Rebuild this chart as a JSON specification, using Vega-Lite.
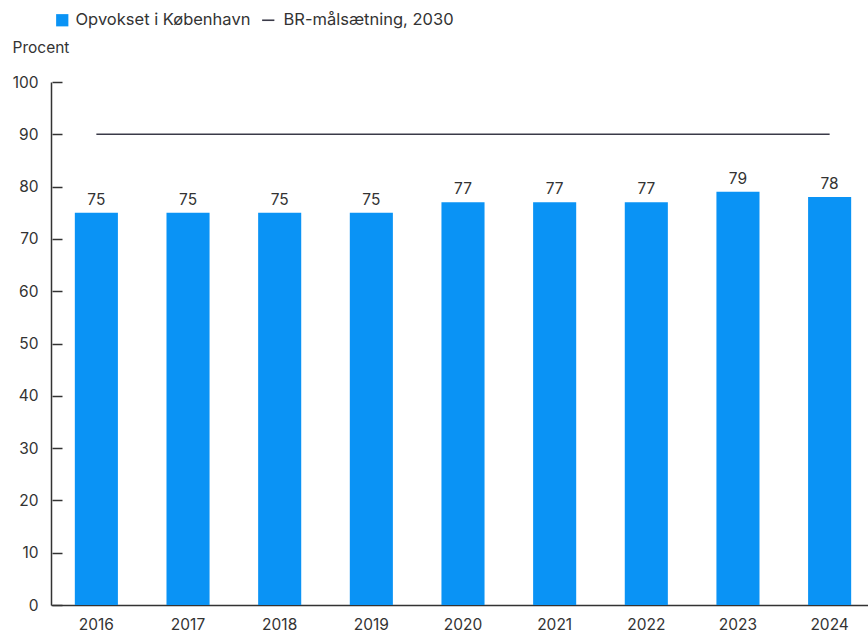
{
  "$schema": "https://vega.github.io/schema/vega-lite/v6.json",
  "autosize": "none",
  "width": 824,
  "height": 523,
  "padding": {"left": 51, "top": 82, "right": 0, "bottom": 29},
  "background": "white",
  "config": {
    "font": "Inter",
    "view": {"stroke": null},
    "axis": {"labelFont": "Inter", "titleFont": "Inter", "labelColor": "#333333", "titleColor": "#333333"}
  },
  "resolve": {"axis": {"y": "independent"}},
  "data": {
    "values": [
      {"year": "2016", "value": 75, "target": 90},
      {"year": "2017", "value": 75, "target": 90},
      {"year": "2018", "value": 75, "target": 90},
      {"year": "2019", "value": 75, "target": 90},
      {"year": "2020", "value": 77, "target": 90},
      {"year": "2021", "value": 77, "target": 90},
      {"year": "2022", "value": 77, "target": 90},
      {"year": "2023", "value": 79, "target": 90},
      {"year": "2024", "value": 78, "target": 90}
    ]
  },
  "encoding": {
    "x": {
      "field": "year",
      "type": "ordinal",
      "scale": {"paddingInner": 0.53, "paddingOuter": 0.26},
      "axis": {
        "title": null,
        "labelAngle": 0,
        "labelFontSize": 15.5,
        "labelPadding": 12,
        "ticks": false,
        "domainColor": "#333333",
        "domainWidth": 1.5
      }
    }
  },
  "layer": [
    {
      "mark": {"type": "bar", "color": "#0A93F5"},
      "encoding": {
        "y": {
          "field": "value",
          "type": "quantitative",
          "scale": {"domain": [0, 100], "nice": false},
          "axis": {
            "orient": "left",
            "title": "Procent",
            "titleAngle": 0,
            "titleAlign": "left",
            "titleBaseline": "middle",
            "titleX": -39,
            "titleY": -35,
            "titleFontSize": 15.5,
            "titleFontWeight": "normal",
            "values": [0, 10, 20, 30, 40, 50, 60, 70, 80, 90, 100],
            "labelFontSize": 15.5,
            "labelPadding": 13,
            "ticks": false,
            "domainColor": "#333333",
            "domainWidth": 1.5,
            "grid": false
          }
        },
        "fill": {
          "datum": "Opvokset i København",
          "scale": {"range": ["#0A93F5"]},
          "legend": {
            "title": null,
            "orient": "none",
            "legendX": 3,
            "legendY": -70,
            "symbolType": "square",
            "symbolSize": 150,
            "symbolStrokeWidth": 0,
            "labelFontSize": 16.5,
            "labelColor": "#333333",
            "labelOffset": 5,
            "labelLimit": 400
          }
        }
      }
    },
    {
      "mark": {"type": "line", "color": "#3a3a48", "strokeWidth": 1.6},
      "encoding": {
        "y": {
          "field": "target",
          "type": "quantitative",
          "axis": {
            "orient": "left",
            "offset": -11,
            "title": null,
            "values": [0, 10, 20, 30, 40, 50, 60, 70, 80, 90, 100],
            "labels": false,
            "domain": false,
            "grid": false,
            "tickSize": 10,
            "tickColor": "#333333",
            "tickWidth": 1.5
          }
        },
        "stroke": {
          "datum": "BR-målsætning, 2030",
          "scale": {"range": ["#3a3a48"]},
          "legend": {
            "title": null,
            "orient": "none",
            "legendX": 209,
            "legendY": -70,
            "symbolType": "stroke",
            "symbolSize": 150,
            "symbolStrokeWidth": 1.6,
            "labelFontSize": 16.5,
            "labelColor": "#333333",
            "labelOffset": 7,
            "labelLimit": 400
          }
        }
      }
    },
    {
      "mark": {"type": "text", "dy": -13, "fontSize": 15.5, "color": "#333333", "baseline": "middle"},
      "encoding": {
        "y": {"field": "value", "type": "quantitative", "axis": null},
        "text": {"field": "value", "type": "quantitative"}
      }
    }
  ]
}
